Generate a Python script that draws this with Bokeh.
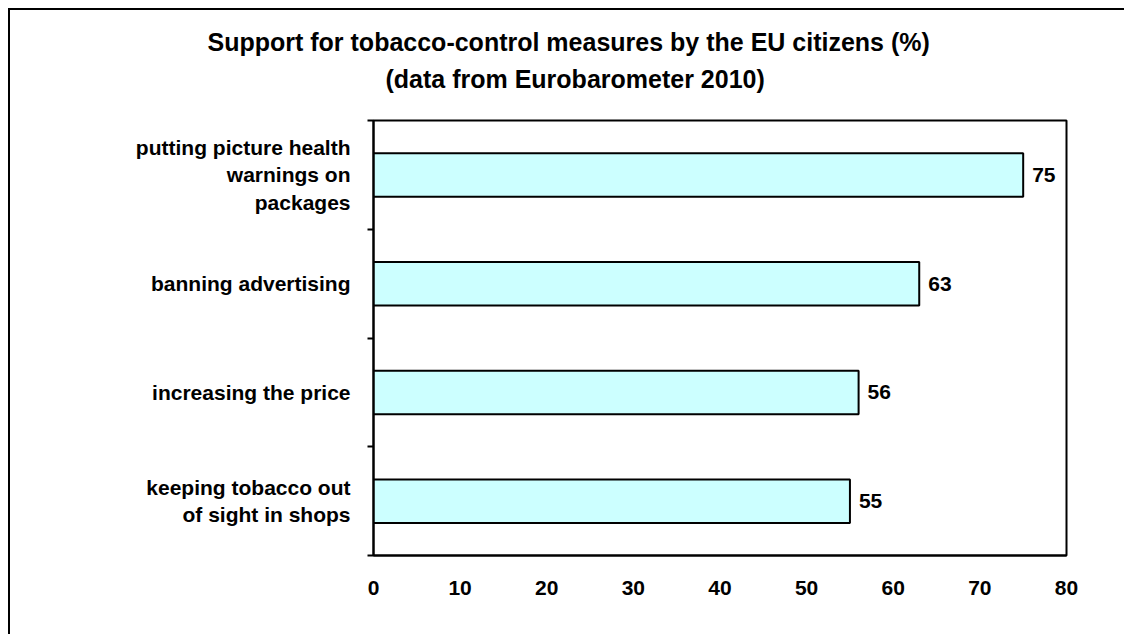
from bokeh.plotting import figure
from bokeh.models import Range1d, FixedTicker, Title, ColumnDataSource
from bokeh.core.properties import value
from bokeh.embed import file_html
from bokeh.resources import INLINE

# ---- data ----
categories = [
    "putting picture health\nwarnings on\npackages",
    "banning advertising",
    "increasing the price",
    "keeping tobacco out\nof sight in shops",
]
support = [75, 63, 56, 55]
x_ticks = [0, 10, 20, 30, 40, 50, 60, 70, 80]
title_lines = [
    "Support for tobacco-control measures by the EU citizens (%)",
    "(data from Eurobarometer 2010)",
]

FONT = "Liberation Sans"
n = len(categories)
ypos = [n - 1 - i for i in range(n)]  # first category on top

src = ColumnDataSource(dict(y=ypos, v=support, lbl=[str(s) for s in support]))

p = figure(
    width=1116, height=626,
    x_range=Range1d(0, 80), y_range=Range1d(-0.5, n - 0.5),
    output_backend="svg", toolbar_location=None,
    min_border_left=363, min_border_right=60,
    min_border_top=110, min_border_bottom=81,
)
p.styles = {"margin-left": "8px", "margin-top": "8px",
            "border-left": "2px solid black", "border-top": "2px solid black"}
p.background_fill_color = "white"
p.border_fill_color = "white"
p.outline_line_color = "black"
p.outline_line_width = 2
p.xgrid.visible = False
p.ygrid.visible = False

p.hbar(y="y", left=0, right="v", height=0.4, source=src,
       fill_color="#CCFFFF", line_color="black", line_width=2)

p.text(x="v", y="y", text="lbl", source=src, x_offset=9,
       text_align="left", text_baseline="middle", text_font=value(FONT),
       text_font_style="bold", text_font_size="21px", text_color="black")

# y axis: labels at category centres, tick marks at category boundaries
ya = p.yaxis[0]
ya.ticker = FixedTicker(ticks=ypos, minor_ticks=[i - 0.5 for i in range(n + 1)])
ya.major_label_overrides = {yy: cat for yy, cat in zip(ypos, categories)}
ya.major_label_text_font = FONT
ya.major_label_text_font_style = "bold"
ya.major_label_text_font_size = "21px"
ya.major_label_text_color = "black"
ya.major_label_text_line_height = 1.2
ya.major_label_standoff = 17
ya.major_tick_out = 0
ya.major_tick_in = 0
ya.minor_tick_out = 6
ya.minor_tick_in = 0
ya.minor_tick_line_width = 2
ya.minor_tick_line_color = "black"
ya.axis_line_width = 2
ya.axis_line_color = "black"

xa = p.xaxis[0]
xa.ticker = FixedTicker(ticks=x_ticks)
xa.major_tick_out = 0
xa.major_tick_in = 0
xa.minor_tick_out = 0
xa.minor_tick_in = 0
xa.axis_line_width = 2
xa.axis_line_color = "black"
xa.major_label_text_font = FONT
xa.major_label_text_font_style = "bold"
xa.major_label_text_font_size = "21px"
xa.major_label_text_color = "black"
xa.major_label_standoff = 25

# two-line title: second line closest to the frame
t2 = Title(text=title_lines[1], align="left", offset=12, standoff=6,
           text_font=FONT, text_font_style="bold",
           text_font_size="25px", text_color="black")
t1 = Title(text=title_lines[0], align="left", offset=-166, standoff=7,
           text_font=FONT, text_font_style="bold",
           text_font_size="25px", text_color="black")
if "padding" in Title.properties():
    t2.padding = dict(left=0, right=0, top=0, bottom=25)
p.add_layout(t2, "above")
p.add_layout(t1, "above")

open("out.html", "w").write(file_html(p, INLINE))
